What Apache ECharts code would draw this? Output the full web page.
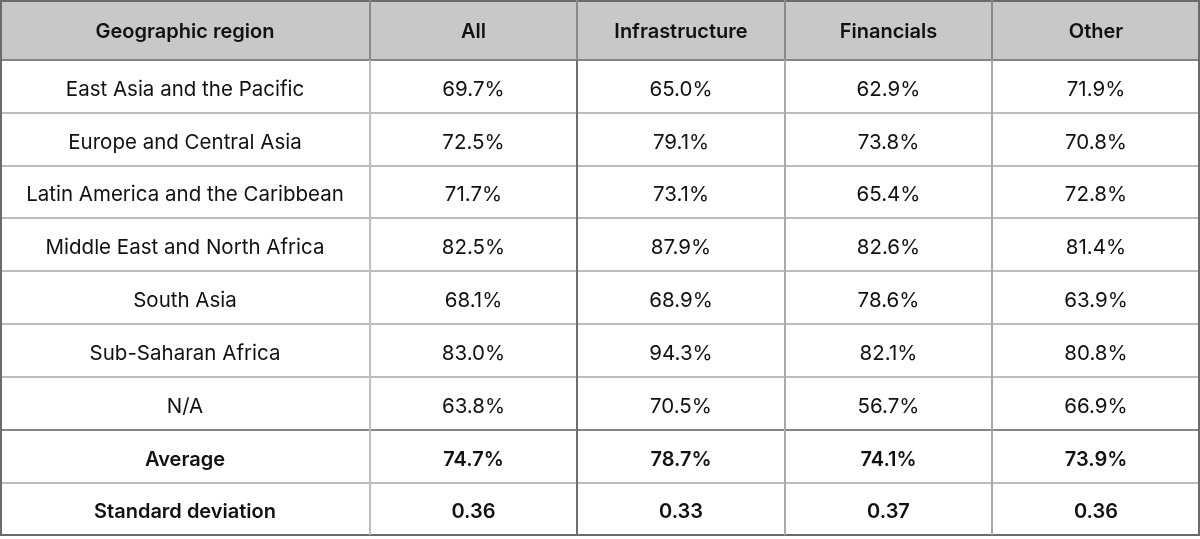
<!DOCTYPE html>
<html>
<head>
<meta charset="utf-8">
<script src="https://cdn.jsdelivr.net/npm/echarts@6/dist/echarts.min.js"></script>
<style>
    html, body { margin: 0; padding: 0; background: #fff; }
    #table-chart { width: 1200px; height: 539px; }
</style>
</head>
<body>
<div id="table-chart"></div>
<script>
// Table content
const columns = ['Geographic region', 'All', 'Infrastructure', 'Financials', 'Other'];
const regions = [
    'East Asia and the Pacific',
    'Europe and Central Asia',
    'Latin America and the Caribbean',
    'Middle East and North Africa',
    'South Asia',
    'Sub-Saharan Africa',
    'N/A'
];
const allSectors = [69.7, 72.5, 71.7, 82.5, 68.1, 83.0, 63.8];
const infrastructure = [65.0, 79.1, 73.1, 87.9, 68.9, 94.3, 70.5];
const financials = [62.9, 73.8, 65.4, 82.6, 78.6, 82.1, 56.7];
const other = [71.9, 70.8, 72.8, 81.4, 63.9, 80.8, 66.9];
const averages = [74.7, 78.7, 74.1, 73.9];
const stdDevs = [0.36, 0.33, 0.37, 0.36];

// Layout of the grid (axis units = pixels of the 1200 x 539 canvas)
const colEdges = [0, 370, 577, 785, 992, 1200];
const rowEdges = [0, 60, 113, 166, 218, 271, 324, 377, 430, 483, 535];
const vLineColors = ['#6b6b6b', '#bdbdbd', '#6e6e6e', '#a9a9a9', '#a9a9a9', '#6b6b6b'];
const hLineColors = ['#6b6b6b', '#858585', '#bcbcbc', '#bcbcbc', '#bcbcbc', '#bcbcbc',
                     '#bcbcbc', '#bcbcbc', '#858585', '#bcbcbc', '#6b6b6b'];

document.addEventListener('DOMContentLoaded', function() {
    const chart = echarts.init(document.getElementById('table-chart'));

    // Build cell list: [col, row, text, kind]
    const cells = [];
    columns.forEach((name, c) => cells.push([c, 0, name, 'header']));
    const valueCols = [allSectors, infrastructure, financials, other];
    regions.forEach((region, i) => {
        cells.push([0, i + 1, region, 'body']);
        valueCols.forEach((vals, j) => cells.push([j + 1, i + 1, vals[i].toFixed(1) + '%', 'body']));
    });
    const avgRow = regions.length + 1;
    cells.push([0, avgRow, 'Average', 'bold']);
    averages.forEach((v, j) => cells.push([j + 1, avgRow, v.toFixed(1) + '%', 'bold']));
    cells.push([0, avgRow + 1, 'Standard deviation', 'bold']);
    stdDevs.forEach((v, j) => cells.push([j + 1, avgRow + 1, v.toFixed(2), 'bold']));

    // Grid lines: [x1, y1, x2, y2, color]
    const lines = [];
    hLineColors.forEach((color, r) => {
        let y = rowEdges[r];
        if (r === 0) y += 1;
        lines.push([0, y, 1200, y, color]);
    });
    vLineColors.forEach((color, c) => {
        let x = colEdges[c];
        if (c === 0) x += 1;
        if (c === colEdges.length - 1) x -= 1;
        lines.push([x, rowEdges[1], x, rowEdges[rowEdges.length - 1], color]);
        lines.push([x, 0, x, rowEdges[1], c === 0 || c === colEdges.length - 1 ? color : '#8a8a8a']);
    });

    function renderCell(params, api) {
        const c = api.value(0);
        const r = api.value(1);
        const kind = cells[params.dataIndex][3];
        const p0 = api.coord([colEdges[c], rowEdges[r]]);
        const p1 = api.coord([colEdges[c + 1], rowEdges[r + 1]]);
        const cx = (p0[0] + p1[0]) / 2;
        const cy = (p0[1] + p1[1]) / 2 + (kind === 'header' ? 2 : 3);
        return {
            type: 'group',
            children: [
                {
                    type: 'rect',
                    shape: { x: p0[0], y: p0[1], width: p1[0] - p0[0], height: p1[1] - p0[1] },
                    style: { fill: kind === 'header' ? '#c8c8c8' : '#ffffff' }
                },
                {
                    type: 'text',
                    x: cx,
                    y: cy,
                    style: {
                        text: cells[params.dataIndex][2],
                        align: 'center',
                        verticalAlign: 'middle',
                        fontFamily: 'Inter',
                        fontSize: kind === 'body' ? 20.5 : 20,
                        fontWeight: kind === 'body' ? 'normal' : 600,
                        fill: '#111111'
                    }
                }
            ]
        };
    }

    function renderLine(params, api) {
        const a = api.coord([api.value(0), api.value(1)]);
        const b = api.coord([api.value(2), api.value(3)]);
        return {
            type: 'line',
            shape: { x1: a[0], y1: a[1], x2: b[0], y2: b[1] },
            style: { stroke: lines[params.dataIndex][4], lineWidth: 2 }
        };
    }

    chart.setOption({
        animation: false,
        grid: { left: 0, right: 0, top: 0, bottom: 0 },
        xAxis: { type: 'value', min: 0, max: 1200, show: false },
        yAxis: { type: 'value', min: 0, max: 539, inverse: true, show: false },
        series: [
            {
                type: 'custom',
                renderItem: renderCell,
                data: cells.map(d => [d[0], d[1]]),
                silent: true,
                z: 1
            },
            {
                type: 'custom',
                renderItem: renderLine,
                data: lines.map(d => [d[0], d[1], d[2], d[3]]),
                silent: true,
                z: 2
            }
        ]
    });

    window.addEventListener('resize', function() {
        chart.resize();
    });
});
</script>
</body>
</html>
